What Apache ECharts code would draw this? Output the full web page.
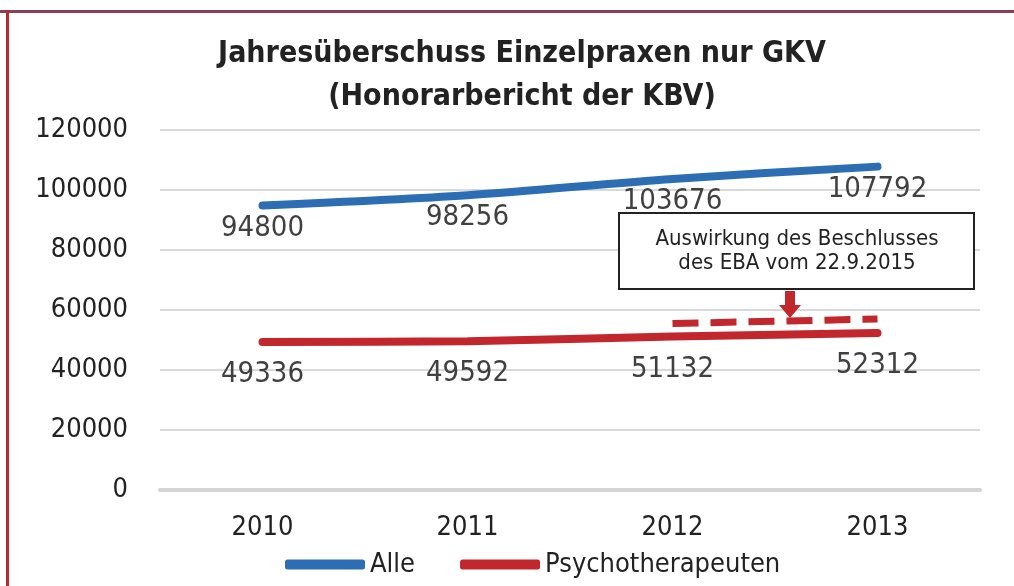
<!DOCTYPE html>
<html>
<head>
<meta charset="utf-8">
<script src="https://cdn.jsdelivr.net/npm/echarts@6/dist/echarts.min.js"></script>
<style>
  html, body { margin: 0; padding: 0; background: #fff; }
  #container { width: 1014px; height: 586px; }
</style>
</head>
<body>
<div id="container"></div>
<script>
var jahre = ['2010', '2011', '2012', '2013'];
var alle = [94800, 98256, 103676, 107792];
var psycho = [49336, 49592, 51132, 52312];
// geschätzte Werte der gestrichelten Linie (EBA-Beschluss)
var eba = [null, null, 55500, 57000];

var font = "'Liberation Sans Narrow', 'DejaVu Sans Condensed', 'Noto Sans', sans-serif";
var blau = '#2d6db3';
var rot = '#c1272d';

var dom = document.getElementById('container');
var myChart = echarts.init(dom);

var option = {
    backgroundColor: '#fff',
    animation: false,
    textStyle: { fontFamily: font },
    title: {
        text: 'Jahresüberschuss Einzelpraxen nur GKV\n(Honorarbericht der KBV)',
        left: 522,
        textAlign: 'center',
        top: 28,
        padding: [5, 0, 5, 0],
        textStyle: {
            fontFamily: font,
            fontSize: 30,
            fontWeight: 'bold',
            color: '#222',
            lineHeight: 43,
            align: 'center'
        }
    },
    legend: {
        data: ['Alle', 'Psychotherapeuten'],
        left: 280,
        top: 546,
        itemWidth: 80,
        itemHeight: 10,
        itemGap: 45,
        icon: 'roundRect',
        textStyle: { fontFamily: font, fontSize: 27, color: '#222' }
    },
    grid: {
        left: 160,
        right: 34,
        top: 130,
        bottom: 96,
        containLabel: false,
        outerBoundsMode: 'none'
    },
    xAxis: {
        type: 'category',
        boundaryGap: true,
        data: jahre,
        axisLine: { show: true, lineStyle: { color: '#d4d4d4', width: 4 } },
        axisTick: { show: false },
        axisLabel: {
            margin: 24,
            fontFamily: font,
            fontSize: 27,
            color: '#222'
        }
    },
    yAxis: {
        type: 'value',
        min: 0,
        max: 120000,
        interval: 20000,
        axisLine: { show: false },
        axisTick: { show: false },
        splitLine: { lineStyle: { color: '#d9d9d9', width: 2 } },
        axisLabel: {
            margin: 32,
            fontFamily: font,
            fontSize: 27,
            color: '#222',
            formatter: function (v) { return String(v); }
        }
    },
    series: [
        {
            name: 'Alle',
            type: 'line',
            data: alle,
            smooth: 0.3,
            symbol: 'circle',
            symbolSize: 0,
            showSymbol: true,
            color: blau,
            lineStyle: { color: blau, width: 8, cap: 'round' },
            label: {
                show: true,
                position: 'bottom',
                distance: 8,
                fontFamily: font,
                fontSize: 29,
                color: '#404040'
            }
        },
        {
            name: 'Psychotherapeuten',
            type: 'line',
            data: psycho,
            smooth: 0.3,
            symbol: 'circle',
            symbolSize: 0,
            showSymbol: true,
            color: rot,
            lineStyle: { color: rot, width: 8, cap: 'round' },
            label: {
                show: true,
                position: 'bottom',
                distance: 18,
                fontFamily: font,
                fontSize: 29,
                color: '#404040'
            }
        },
        {
            name: 'EBA',
            type: 'line',
            data: eba,
            symbol: 'none',
            color: rot,
            lineStyle: { color: rot, width: 7, type: [26, 12] }
        }
    ],
    graphic: [
        // Rahmen
        { type: 'rect', shape: { x: 0, y: 10, width: 1014, height: 3 }, style: { fill: '#8c3f50' } },
        { type: 'rect', shape: { x: 6, y: 10, width: 3, height: 576 }, style: { fill: '#b8292f' } },
        // Hinweisbox
        {
            type: 'rect',
            shape: { x: 619, y: 213, width: 355, height: 76 },
            style: { fill: '#fff', stroke: '#222', lineWidth: 2 },
            z: 10
        },
        {
            type: 'text',
            x: 797,
            y: 251,
            style: {
                text: 'Auswirkung des Beschlusses\ndes EBA vom 22.9.2015',
                fontFamily: font,
                fontSize: 22,
                lineHeight: 24,
                fill: '#222',
                align: 'center',
                verticalAlign: 'middle'
            },
            z: 11
        },
        // Pfeil
        {
            type: 'polygon',
            shape: { points: [[785, 291], [795, 291], [795, 305], [801, 305], [790, 318], [779, 305], [785, 305]] },
            style: { fill: rot },
            z: 10
        }
    ]
};

myChart.setOption(option);
</script>
</body>
</html>
